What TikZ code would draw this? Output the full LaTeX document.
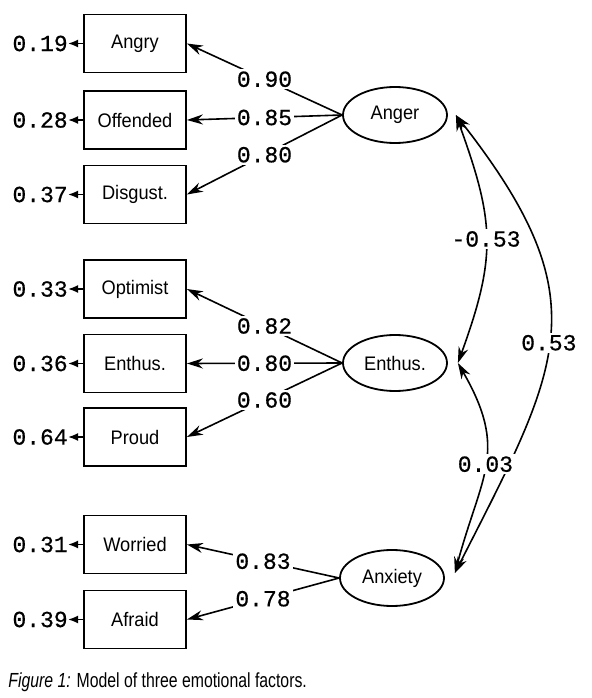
\documentclass[tikz,border=0pt]{standalone}
\usepackage{graphicx}
\usepackage{fontspec}
\setmainfont{Liberation Sans}
\newfontfamily\coeffont[FakeBold=0.6]{Liberation Mono}
\usetikzlibrary{shapes.geometric,arrows.meta,positioning}
\newcommand{\boxlabel}[1]{\scalebox{0.93}[1]{#1}}
\tikzstyle{indicator} = [draw, line width=0.9pt, minimum width=51pt, minimum height=29pt, inner sep=0pt, font=\fontsize{9.8}{11}\selectfont]
\tikzstyle{factor} = [draw, ellipse, line width=0.9pt, minimum width=52pt, minimum height=28pt, inner sep=0pt, font=\fontsize{9.8}{11}\selectfont]
\tikzstyle{coef} = [fill=white, inner sep=1pt, font=\coeffont\fontsize{11.5}{12}\selectfont]
\tikzstyle{errvar} = [inner sep=0pt, font=\coeffont\fontsize{11.5}{12}\selectfont]
\tikzstyle{errpath} = [line width=0.8pt, -{Latex[length=5pt,width=4pt]}]
\tikzstyle{loading} = [line width=0.8pt, -{Stealth[length=8pt,width=5pt]}]
\tikzstyle{covar} = [line width=0.8pt, {Stealth[length=8pt,width=5pt]}-{Stealth[length=8pt,width=5pt]}]

\begin{document}
\begin{tikzpicture}[x=0.5pt, y=0.5pt]
	\useasboundingbox (0,0) rectangle (592,698);
	\node[indicator] (angry) at (135,654.5) {\boxlabel{Angry}};
	\node[indicator] (offended) at (135,578) {\boxlabel{Offended}};
	\node[indicator] (disgusted) at (135,503.5) {\boxlabel{Disgust.}};
	\node[indicator] (optimist) at (135,409) {\boxlabel{Optimist}};
	\node[indicator] (enthusiastic) at (135,334.5) {\boxlabel{Enthus.}};
	\node[indicator] (proud) at (135,261) {\boxlabel{Proud}};
	\node[indicator] (worried) at (135,153.5) {\boxlabel{Worried}};
	\node[indicator] (afraid) at (135,78.5) {\boxlabel{Afraid}};

	\node[factor] (anger) at (395,583) {\boxlabel{Anger}};
	\node[factor] (enthus) at (395,335) {\boxlabel{Enthus.}};
	\node[factor] (anxiety) at (392,120) {\boxlabel{Anxiety}};

	\node[errvar, left=7.5pt of angry] (eangry) {0.19};
	\node[errvar, left=7.5pt of offended] (eoffended) {0.28};
	\node[errvar, left=7.5pt of disgusted] (edisgusted) {0.37};
	\node[errvar, left=7.5pt of optimist] (eoptimist) {0.33};
	\node[errvar, left=7.5pt of enthusiastic] (eenthusiastic) {0.36};
	\node[errvar, left=7.5pt of proud] (eproud) {0.64};
	\node[errvar, left=7.5pt of worried] (eworried) {0.31};
	\node[errvar, left=7.5pt of afraid] (eafraid) {0.39};

	\draw[errpath] (angry) -- (eangry);
	\draw[errpath] (offended) -- (eoffended);
	\draw[errpath] (disgusted) -- (edisgusted);
	\draw[errpath] (optimist) -- (eoptimist);
	\draw[errpath] (enthusiastic) -- (eenthusiastic);
	\draw[errpath] (proud) -- (eproud);
	\draw[errpath] (worried) -- (eworried);
	\draw[errpath] (afraid) -- (eafraid);

	\draw[loading] (anger.west) -- node[coef] {0.90} (angry.east);
	\draw[loading] (anger.west) -- node[coef] {0.85} (offended.east);
	\draw[loading] (anger.west) -- node[coef] {0.80} (disgusted.east);
	\draw[loading] (enthus.west) -- node[coef] {0.82} (optimist.east);
	\draw[loading] (enthus.west) -- node[coef] {0.80} (enthusiastic.east);
	\draw[loading] (enthus.west) -- node[coef] {0.60} (proud.east);
	\draw[loading] (anxiety.west) -- node[coef] {0.83} (worried.east);
	\draw[loading] (anxiety.west) -- node[coef] {0.78} (afraid.east);

	\coordinate[right=4pt of anger.east] (angerR);
	\coordinate[right=5pt of enthus.east] (enthusR);
	\coordinate[above right=2.5pt and 5pt of anxiety.east] (anxietyR);
	\draw[covar] (angerR) to[out=-70, in=70, looseness=1.17] node[coef] {-0.53} (enthusR);
	\draw[covar] (angerR) to[out=-52, in=63, looseness=1.31] node[coef, pos=0.52] {0.53} (anxietyR);
	\draw[covar] (enthusR) to[out=-60, in=75, looseness=1.24] node[coef] {0.03} (anxietyR);

	\node[anchor=base west, inner sep=0pt, font=\fontsize{10.2}{12}\selectfont] (caption) at (8,10.7) {\scalebox{0.775}[1]{{\itshape Figure 1:} Model of three emotional factors.}};
\end{tikzpicture}
\end{document}
